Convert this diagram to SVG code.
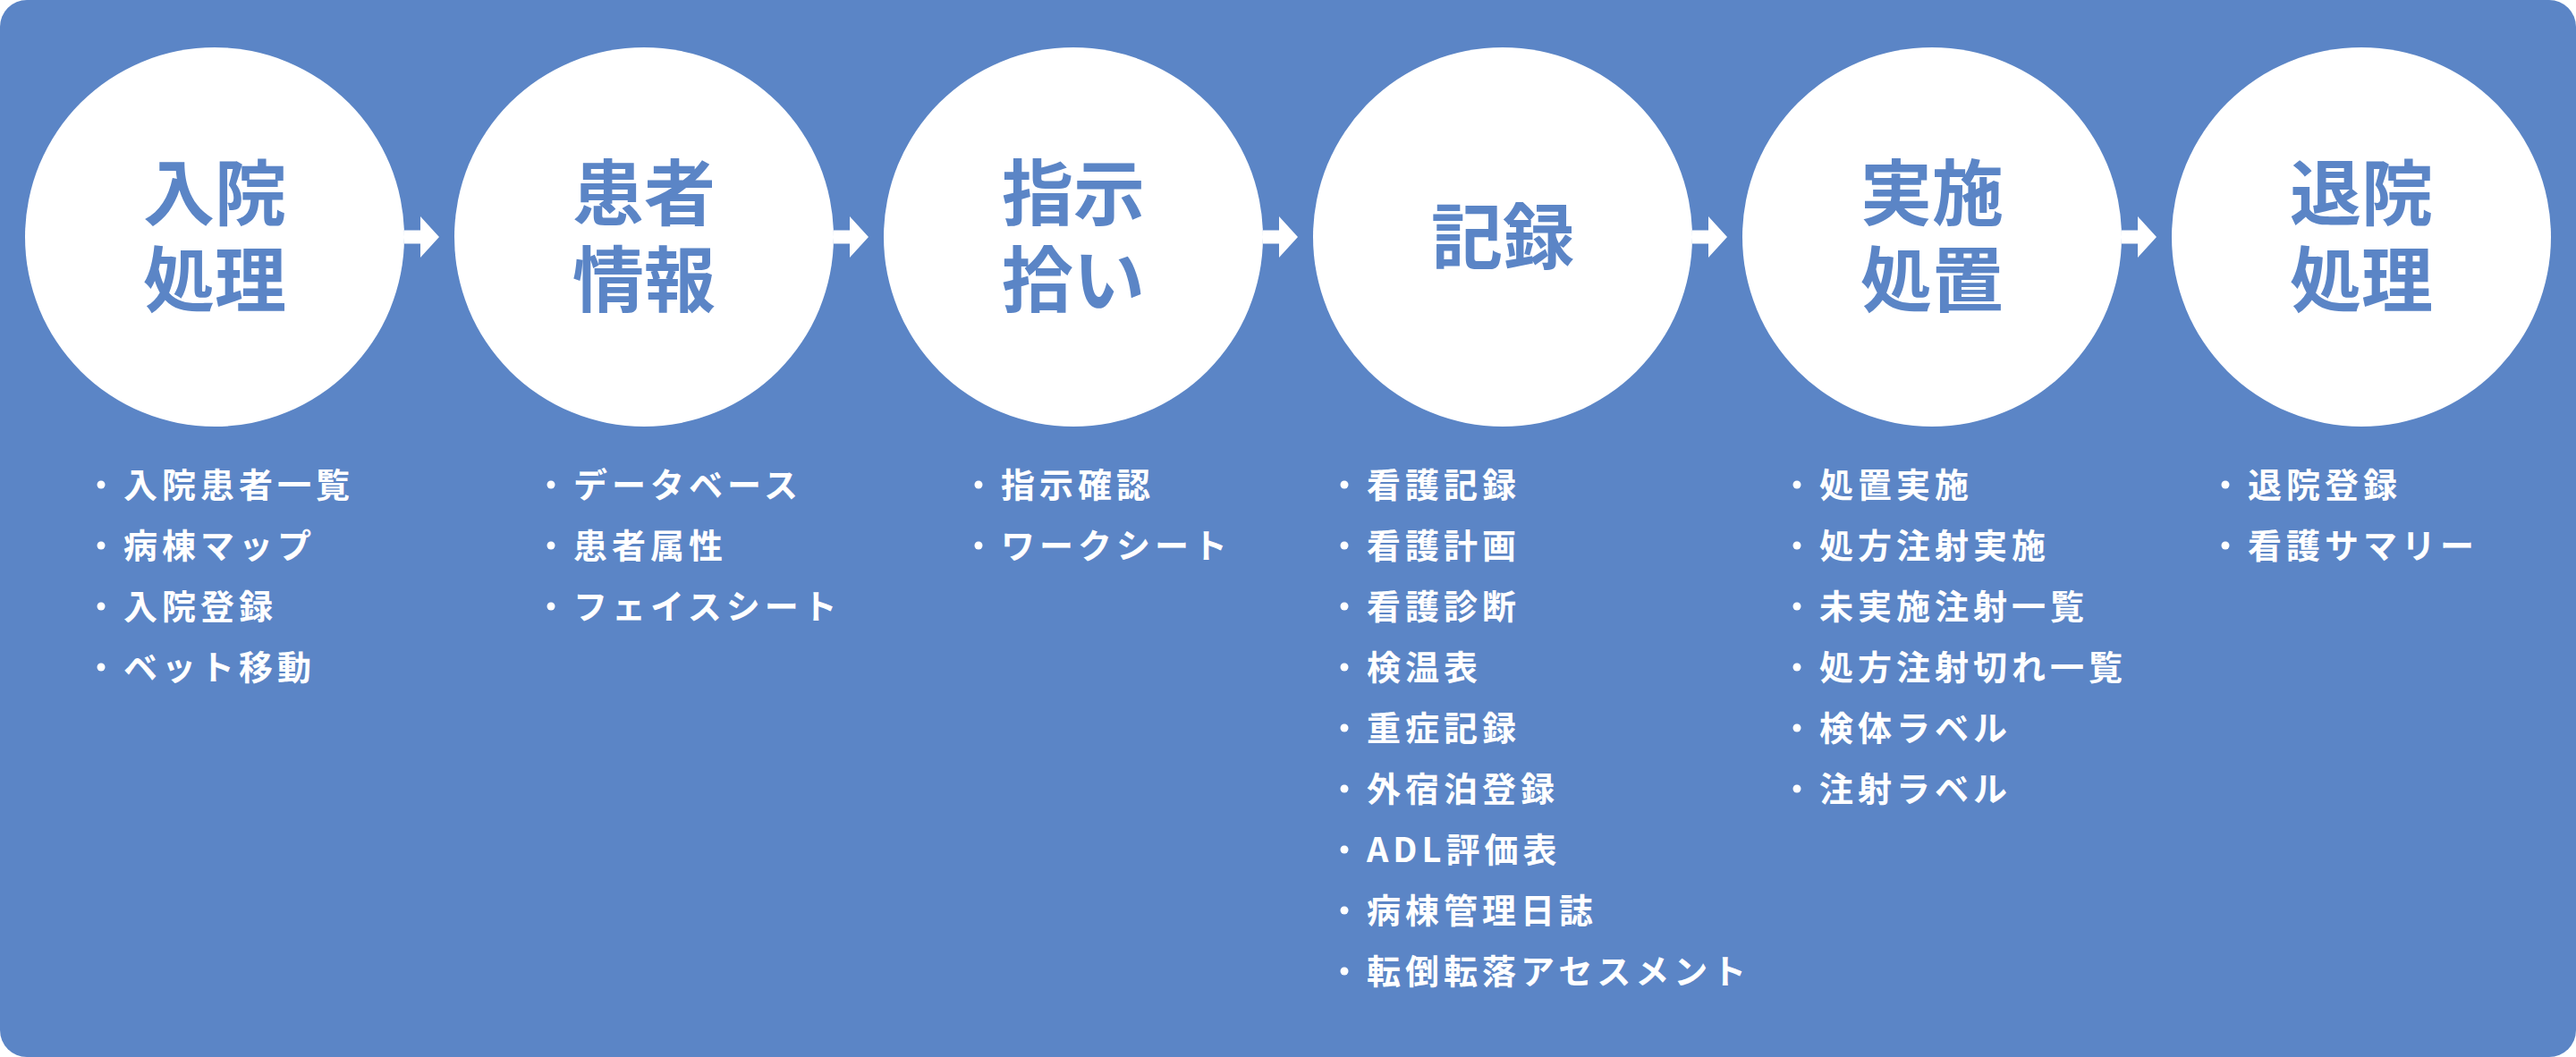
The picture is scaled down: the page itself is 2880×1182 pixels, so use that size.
<svg xmlns="http://www.w3.org/2000/svg" width="2880" height="1182" viewBox="0 0 2880 1182">
<style>
.c{fill:#fff}
.t{font-family:"Noto Sans CJK JP","Noto Sans",sans-serif;font-weight:700;font-size:80px;fill:#5b85c6;text-anchor:middle}
.l{font-family:"Noto Sans CJK JP","Noto Sans",sans-serif;font-weight:700;font-size:38px;fill:#fff;letter-spacing:5px}
.b{fill:#fff}
</style>
<defs>
<path id="arr" d="M0,-7.5 H18 V-23 L39,0 L18,23 V7.5 H0 Z" fill="#fff"/>
</defs>
<rect x="0" y="0" width="2880" height="1182" rx="30" fill="#5b85c6"/>
<g id="connectors">
<use href="#arr" x="452" y="265"/>
<use href="#arr" x="932" y="265"/>
<use href="#arr" x="1412" y="265"/>
<use href="#arr" x="1892" y="265"/>
<use href="#arr" x="2372" y="265"/>
</g>
<g id="n1"><circle class="c" cx="240" cy="265" r="212"/><text class="t" x="240" y="245">入院</text><text class="t" x="240" y="342">処理</text>
<g class="l"><text x="138" y="556">入院患者一覧</text><text x="138" y="624">病棟マップ</text><text x="138" y="692">入院登録</text><text x="138" y="760">ベット移動</text></g>
<g class="b"><circle cx="113" cy="542" r="4.5"/><circle cx="113" cy="610" r="4.5"/><circle cx="113" cy="678" r="4.5"/><circle cx="113" cy="746" r="4.5"/></g></g>
<g id="n2"><circle class="c" cx="720" cy="265" r="212"/><text class="t" x="720" y="245">患者</text><text class="t" x="720" y="342">情報</text>
<g class="l"><text x="641" y="556">データベース</text><text x="641" y="624">患者属性</text><text x="641" y="692">フェイスシート</text></g>
<g class="b"><circle cx="616" cy="542" r="4.5"/><circle cx="616" cy="610" r="4.5"/><circle cx="616" cy="678" r="4.5"/></g></g>
<g id="n3"><circle class="c" cx="1200" cy="265" r="212"/><text class="t" x="1200" y="245">指示</text><text class="t" x="1200" y="342">拾い</text>
<g class="l"><text x="1119" y="556">指示確認</text><text x="1119" y="624">ワークシート</text></g>
<g class="b"><circle cx="1094" cy="542" r="4.5"/><circle cx="1094" cy="610" r="4.5"/></g></g>
<g id="n4"><circle class="c" cx="1680" cy="265" r="212"/><text class="t" x="1680" y="294">記録</text>
<g class="l"><text x="1528" y="556">看護記録</text><text x="1528" y="624">看護計画</text><text x="1528" y="692">看護診断</text><text x="1528" y="760">検温表</text><text x="1528" y="828">重症記録</text><text x="1528" y="896">外宿泊登録</text><text x="1528" y="964">ADL評価表</text><text x="1528" y="1032">病棟管理日誌</text><text x="1528" y="1100">転倒転落アセスメント</text></g>
<g class="b"><circle cx="1503" cy="542" r="4.5"/><circle cx="1503" cy="610" r="4.5"/><circle cx="1503" cy="678" r="4.5"/><circle cx="1503" cy="746" r="4.5"/><circle cx="1503" cy="814" r="4.5"/><circle cx="1503" cy="882" r="4.5"/><circle cx="1503" cy="950" r="4.5"/><circle cx="1503" cy="1018" r="4.5"/><circle cx="1503" cy="1086" r="4.5"/></g></g>
<g id="n5"><circle class="c" cx="2160" cy="265" r="212"/><text class="t" x="2160" y="245">実施</text><text class="t" x="2160" y="342">処置</text>
<g class="l"><text x="2034" y="556">処置実施</text><text x="2034" y="624">処方注射実施</text><text x="2034" y="692">未実施注射一覧</text><text x="2034" y="760">処方注射切れ一覧</text><text x="2034" y="828">検体ラベル</text><text x="2034" y="896">注射ラベル</text></g>
<g class="b"><circle cx="2009" cy="542" r="4.5"/><circle cx="2009" cy="610" r="4.5"/><circle cx="2009" cy="678" r="4.5"/><circle cx="2009" cy="746" r="4.5"/><circle cx="2009" cy="814" r="4.5"/><circle cx="2009" cy="882" r="4.5"/></g></g>
<g id="n6"><circle class="c" cx="2640" cy="265" r="212"/><text class="t" x="2640" y="245">退院</text><text class="t" x="2640" y="342">処理</text>
<g class="l"><text x="2513" y="556">退院登録</text><text x="2513" y="624">看護サマリー</text></g>
<g class="b"><circle cx="2488" cy="542" r="4.5"/><circle cx="2488" cy="610" r="4.5"/></g></g>
</svg>
